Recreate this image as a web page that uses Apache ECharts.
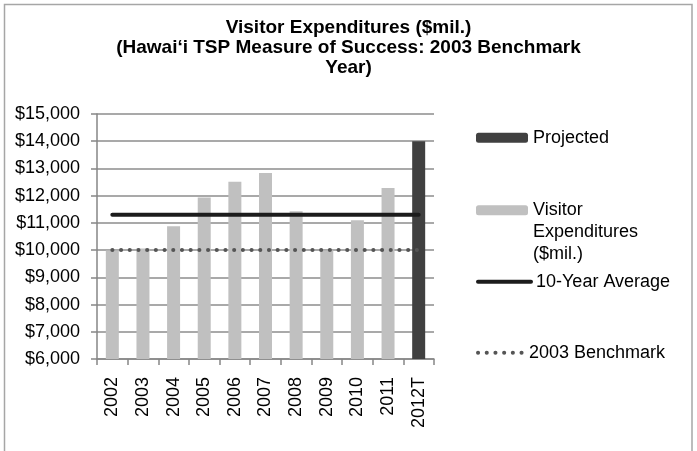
<!DOCTYPE html>
<html>
<head>
<meta charset="utf-8">
<script src="https://cdn.jsdelivr.net/npm/echarts@6/dist/echarts.min.js"></script>
<style>
  html, body { margin: 0; padding: 0; background: #ffffff; }
  #chart { width: 697px; height: 451px; }
</style>
</head>
<body>
<div id="chart"></div>
<script>
// Years on the category axis; 2012T is the projected target year
const years = ['2002', '2003', '2004', '2005', '2006', '2007', '2008', '2009', '2010', '2011', '2012T'];

// Annual visitor expenditures, $ millions
const visitorSpending = [9990, 10060, 10880, 11930, 12510, 12830, 11430, 9990, 11100, 12280, null];

// Projected target for 2012
const projectedSpending = [null, null, null, null, null, null, null, null, null, null, 14000];

// Reference lines
const tenYearAverage = [11300, 11300, 11300, 11300, 11300, 11300, 11300, 11300, 11300, 11300, 11300];
const benchmark2003 = [10000, 10000, 10000, 10000, 10000, 10000, 10000, 10000, 10000, 10000, 10000];

// Value-axis range
const yMin = 6000;
const yMax = 15000;
const yStep = 1000;

const FONT = '"Liberation Sans", Arial, sans-serif';
const dotted = [0.1, 8.6];

const chart = echarts.init(document.getElementById('chart'), null, { renderer: 'canvas' });

function legendBlock(name, top, extra) {
  return Object.assign({
    data: [name],
    left: 476,
    top: top,
    orient: 'vertical',
    itemWidth: 52,
    itemHeight: 10,
    selectedMode: false,
    padding: 0,
    textStyle: { fontFamily: FONT, fontSize: 18, color: '#000', lineHeight: 21.7 }
  }, extra || {});
}

chart.setOption({
  animation: false,
  backgroundColor: '#ffffff',
  title: {
    text: 'Visitor Expenditures ($mil.)\n(Hawai\u2018i TSP Measure of Success: 2003 Benchmark\nYear)',
    left: 'center',
    top: 13,
    textStyle: {
      fontFamily: FONT,
      fontSize: 19,
      fontWeight: 'bold',
      color: '#000',
      lineHeight: 20
    }
  },
  graphic: [{
    type: 'rect',
    shape: { x: 4.5, y: 4.5, width: 687.5, height: 470 },
    style: { fill: 'none', stroke: '#a6a6a6', lineWidth: 1.5 },
    silent: true
  }],
  legend: [
    legendBlock('Projected', 127),
    // two leading blank lines keep the swatch level with the first text line
    legendBlock('Visitor Expenditures ($mil.)', 156, {
      formatter: function () { return '\n\nVisitor\nExpenditures\n($mil.)'; }
    }),
    legendBlock('10-Year Average', 271, {
      itemWidth: 53,
      itemStyle: { opacity: 0 },
      lineStyle: { width: 4, color: '#1c1c1c', cap: 'round', type: 'solid' }
    }),
    legendBlock('2003 Benchmark', 342, {
      itemWidth: 46,
      itemStyle: { opacity: 0 },
      lineStyle: { width: 4, color: '#555555', cap: 'round', type: dotted }
    })
  ],
  grid: {
    left: 97,
    right: 263,
    top: 114,
    bottom: 92,
    containLabel: false
  },
  xAxis: {
    type: 'category',
    data: years,
    boundaryGap: true,
    axisLine: { show: true, lineStyle: { color: '#868686', width: 1.5 } },
    axisTick: { show: true, alignWithLabel: false, length: 6, lineStyle: { color: '#868686', width: 1.5 } },
    axisLabel: {
      rotate: 90,
      margin: 18,
      fontFamily: FONT,
      fontSize: 18,
      color: '#000'
    },
    splitLine: { show: false }
  },
  yAxis: {
    type: 'value',
    min: yMin,
    max: yMax,
    interval: yStep,
    axisLine: { show: true, lineStyle: { color: '#868686', width: 1.5 } },
    axisTick: { show: true, length: 6, lineStyle: { color: '#868686', width: 1.5 } },
    axisLabel: {
      margin: 17,
      fontFamily: FONT,
      fontSize: 18,
      color: '#000',
      formatter: function (v) { return '$' + v.toLocaleString('en-US'); }
    },
    splitLine: { show: true, lineStyle: { color: '#8c8c8c', width: 1.5 } }
  },
  series: [
    {
      name: 'Projected',
      type: 'bar',
      data: projectedSpending,
      barWidth: 13,
      barGap: '-100%',
      itemStyle: { color: '#404040' },
      z: 2
    },
    {
      name: 'Visitor Expenditures ($mil.)',
      type: 'bar',
      data: visitorSpending,
      barWidth: 13,
      barGap: '-100%',
      itemStyle: { color: '#c0c0c0' },
      z: 2
    },
    {
      name: '10-Year Average',
      type: 'line',
      data: tenYearAverage,
      symbol: 'none',
      lineStyle: { width: 4, color: '#1c1c1c', cap: 'round' },
      itemStyle: { color: '#1c1c1c' },
      z: 4
    },
    {
      name: '2003 Benchmark',
      type: 'line',
      data: benchmark2003,
      symbol: 'none',
      lineStyle: { width: 4, color: '#555555', cap: 'round', type: dotted },
      itemStyle: { color: '#555555' },
      z: 3
    }
  ]
});
</script>
</body>
</html>
